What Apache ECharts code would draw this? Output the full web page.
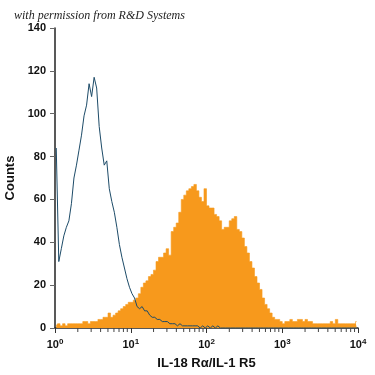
<!DOCTYPE html>
<html>
<head>
<meta charset="utf-8">
<script src="https://cdn.jsdelivr.net/npm/echarts@6/dist/echarts.min.js"></script>
<style>html,body{margin:0;padding:0;background:#fff}#c{width:375px;height:375px}</style>
</head>
<body>
<div id="c"></div>
<script>
// ---- data ----
const titleText = 'with permission from R&D Systems';
const xAxisTitle = 'IL-18 R\u03b1/IL-1 R5';
const yAxisTitle = 'Counts';
const binsPerDecade = 30; // histogram bins, log-spaced, 4 decades (10^0..10^4)
// isotype control (blue outline)
const controlCounts = [
  84,31,37,43,47,50,58,70,76,83, 90,99,104,114,108,117,112,94,84,76,
  78,65,59,54,47,39,33,28,23,19, 16,14,10,9,10,8,8,6,5,5,
  4,4,3,3,3,2,2,2,1,2, 1,1,1,1,1,1,1,0,1,0,
  1,0,1,0,1,0,0,0,0,0, 0,0,0,0,0,0,0,0,0,0,
  0,0,0,0,0,0,0,0,0,0, 0,0,0,0,0,0,0,0,0,0,
  0,0,0,0,0,0,0,0,0,0, 0,0,0,0,0,0,0,0,0,0
];
// IL-18 R alpha stained cells (orange filled)
const stainedCounts = [
  1,2,1,2,1,2,2,2,2,2, 2,3,3,2,3,3,3,4,4,5,
  5,7,5,6,7,8,9,10,11,12, 12,13,14,16,19,21,22,24,25,27,
  31,33,33,35,37,34,45,47,49,54, 60,62,64,65,66,67,64,61,59,65,
  57,56,56,53,52,50,46,47,47,50, 51,52,46,45,42,38,35,31,28,24,
  21,18,14,11,9,7,5,4,4,3, 2,3,3,4,3,3,4,4,3,4,
  3,3,2,2,2,2,2,2,2,3, 2,4,2,2,2,2,2,2,2,3
];
const minorTickValues = [2,3,4,5,6,7,8,9,20,30,40,50,60,70,80,90,200,300,400,500,600,700,800,900,2000,3000,4000,5000,6000,7000,8000,9000];

// bin centres (on the log scale)
const binCentre = i => Math.pow(10, (i + 0.5) / binsPerDecade);
const stainedData = stainedCounts.map((c, i) => [binCentre(i), c]);
const controlData = controlCounts.map((c, i) => [binCentre(i), c]);

const chart = echarts.init(document.getElementById('c'), null, {renderer: 'canvas'});
const labelFont = {fontFamily: 'Liberation Sans', fontWeight: 'bold', color: '#111'};
chart.setOption({
  animation: false,
  title: {
    text: titleText, left: 9, top: 5,
    textStyle: {fontFamily: 'Liberation Serif', fontStyle: 'italic', fontWeight: 'normal', fontSize: 12, color: '#222'}
  },
  grid: {left: 55, right: 17, top: 28, bottom: 47, containLabel: false, outerBoundsMode: 'none'},
  xAxis: {
    type: 'log', logBase: 10, min: 1, max: 10000, splitNumber: 4,
    name: xAxisTitle, nameLocation: 'middle', nameGap: 29,
    nameTextStyle: Object.assign({fontSize: 13}, labelFont),
    axisLine: {lineStyle: {color: '#222', width: 1.5}},
    axisTick: {length: 5, lineStyle: {color: '#333'}},
    splitLine: {show: false},
    axisLabel: {
      margin: 10,
      formatter: v => '{b|10}{s|' + Math.round(Math.log10(v)) + '}',
      rich: {
        b: Object.assign({fontSize: 11, lineHeight: 14}, labelFont),
        s: Object.assign({fontSize: 8, verticalAlign: 'top', lineHeight: 9}, labelFont)
      }
    }
  },
  yAxis: {
    type: 'value', min: 0, max: 140, interval: 20,
    name: yAxisTitle, nameLocation: 'middle', nameGap: 34,
    nameTextStyle: Object.assign({fontSize: 13}, labelFont),
    axisLine: {show: true, lineStyle: {color: '#222', width: 1.5}},
    axisTick: {show: true, length: 5, lineStyle: {color: '#666'}},
    splitLine: {show: false},
    axisLabel: Object.assign({fontSize: 11, margin: 9}, labelFont)
  },
  series: [
    {
      type: 'line', step: 'middle', data: stainedData, symbol: 'none',
      lineStyle: {width: 0.6, color: '#f59a1f'},
      areaStyle: {color: '#f7991c', opacity: 1}, z: 2
    },
    {
      type: 'line', data: controlData, symbol: 'none',
      lineStyle: {width: 1, color: '#1d4b68'}, z: 3
    },
    {
      type: 'custom', data: minorTickValues.map(v => [v, 0]), z: 4, clip: false,
      renderItem: (params, api) => {
        const p = api.coord([api.value(0), 0]);
        return {type: 'line', shape: {x1: p[0], y1: p[1], x2: p[0], y2: p[1] + 4}, style: {stroke: '#444', lineWidth: 1}};
      }
    }
  ]
});
</script>
</body>
</html>
